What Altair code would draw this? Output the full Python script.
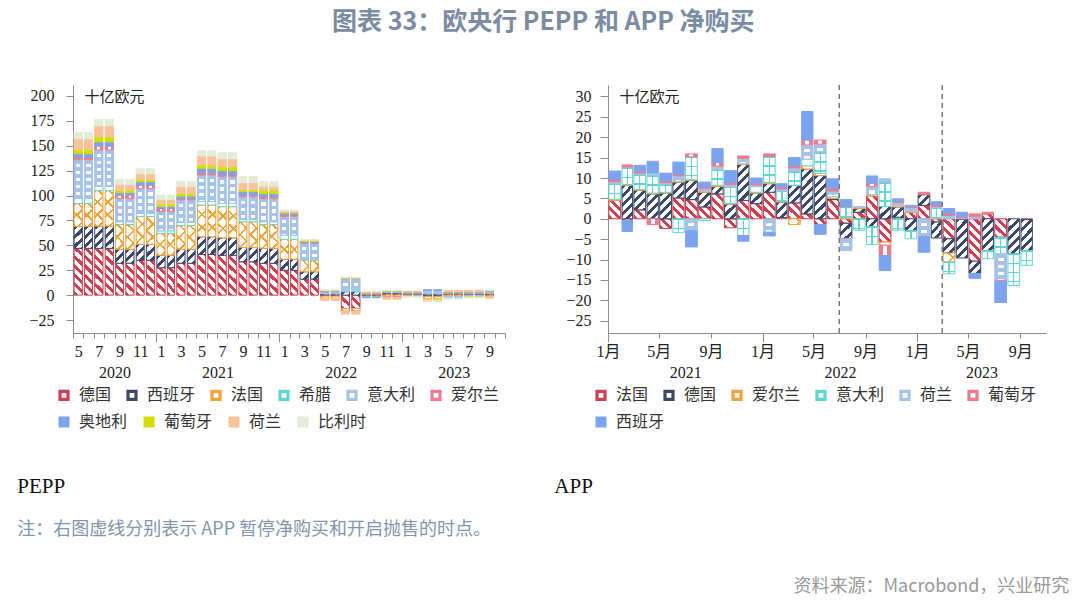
import math
import datetime as dt
import altair as alt

# ---------------- fonts / colours ----------------
SERIF = "Liberation Serif"
CJK = "Noto Sans CJK SC"
MIXF = "Liberation Serif, Noto Sans CJK SC"
RED = "#CF3E51"; NAVY = "#3B4869"; ORANGE = "#F0A23B"; CYAN = "#5ED8CF"; LBLUE = "#A6C2E7"
PINK = "#F07A8E"; BLUE = "#7CA4EE"; YG = "#D3DF00"; PEACH = "#F8C29A"; PALE = "#E3ECD6"
WHITE = "#FFFFFF"; TR = "rgba(255,255,255,0)"

# ---------------- PEPP data (bimonthly, each value shown for both months) ----------------
pepp_periods = ["2020-05", "2020-07", "2020-09", "2020-11", "2021-01", "2021-03", "2021-05", "2021-07",
                "2021-09", "2021-11", "2022-01", "2022-03", "2022-05", "2022-07", "2022-09", "2022-11",
                "2023-01", "2023-03", "2023-05", "2023-07", "2023-09"]
pepp_span = [2] * 20 + [1]
pepp_countries = ["德国", "西班牙", "法国", "希腊", "意大利", "爱尔兰", "奥地利", "葡萄牙", "荷兰", "比利时"]
pepp_de = [47, 47, 32, 35, 27.5, 32, 41, 40, 33.5, 32, 25, 16, 1.5, -13.5, 1.0, 1.5, 1.0, -1.5, 1.2, 0.8, 2.0]
pepp_es = [22, 22.3, 14, 16, 12.5, 14, 17.6, 17.6, 14.5, 15, 11, 7.5, -1.0, 3.5, -1.0, 1.0, 0.8, 1.2, 0.8, 0.8, -0.5]
pepp_fr = [23, 35.7, 25, 28, 22, 24, 31.9, 31.2, 25.7, 24, 20, 11.5, -2.0, -2.5, 1.0, -1.5, 0.6, -2.2, -1.0, 0.5, -1.0]
pepp_gr = [5, 4.5, 2.7, 3, 2.6, 3, 3.5, 3.2, 2.3, 2.7, 4, 1, 0.5, 1.0, 0.3, 0.3, 0.3, 0.5, 0.3, 0.3, 0.4]
pepp_it = [39, 36.2, 23.3, 25, 19.4, 22.5, 26.6, 27, 22.8, 23.3, 19, 16, 1.5, 12, -1.0, 1.0, -1.2, 3.0, -2.0, -1.5, 1.2]
pepp_ie = [2.5, 4, 3.5, 3.5, 3, 1.5, 2.4, 2, 1.7, 2, 2, 1, 0.5, 0.5, 0.3, -0.5, 0.2, 0.2, 0.2, 0.3, 0.3]
pepp_at = [3.5, 4.3, 2.5, 3.5, 2, 2.5, 4.3, 4, 3.4, 3, 1.5, 1, 0.5, -0.5, -0.5, 0.4, 0.3, 0.5, 0.8, 0.6, 0.5]
pepp_pt = [4.5, 5, 2.5, 2, 2.5, 2.5, 3.3, 4, 2.1, 3.5, 1, 0.8, 0.5, 0.5, 0.3, 0.3, -0.3, -0.6, 0.3, -0.5, 0.3]
pepp_nl = [10.5, 11, 5.5, 6, 4.5, 7, 9.1, 8, 7, 4, 1, 0.5, -2.5, -2.5, 0.6, -2.0, 0.6, -1.5, 1.2, 1.6, -1.5]
pepp_be = [6.5, 6.5, 5, 5, 4.5, 5, 5.3, 6, 6, 4.5, 1, 0.7, 0.5, 0.5, 0.5, 0.3, -0.5, -0.8, -1.0, -0.8, 0.4]
pepp_series = [pepp_de, pepp_es, pepp_fr, pepp_gr, pepp_it, pepp_ie, pepp_at, pepp_pt, pepp_nl, pepp_be]
pepp_colors = [RED, NAVY, ORANGE, CYAN, LBLUE, PINK, BLUE, YG, PEACH, PALE]

# ---------------- APP data (monthly) ----------------
app_start = "2021-01"
app_countries = ["法国", "德国", "爱尔兰", "意大利", "荷兰", "葡萄牙", "西班牙"]
app_fr = [4.5, -0.4, 2.2, 0, -2.4, 5.1, 4.7, 2.9, 6.1, -2.2, 4.5, 3.7, 6.5, 0.3, 3.9, 1.2, -1.4, 4.7, -1.1, 1.6,
          5.6, -5.7, 0.4, 1.6, 3.3, -0.8, -4.9, -0.2, -10.4, 1.2, -4.5, 0, -0.2]
app_de = [0, 8.2, 4.8, 6.1, 6.3, 3.9, 4.7, 3.6, 1.8, 3.6, 8.8, 2.6, 2.1, 3.8, 4.3, 11.0, 10.6, 0.3, -3.8, 0.9,
          -1.9, 3.0, 2.5, -2.9, 2.6, -3.9, -3.5, -9.4, -3.0, -7.8, 0, -8.6, -7.6]
app_ie = [0.3, 0.2, 0.2, 0.2, 0.2, 0.2, 0.2, 0.3, 0.3, 0.2, 0.2, 0.2, 0.3, 0.2, -1.4, 0.8, 0.5, 0.4, 0.3, 0.3,
          0.3, -0.8, 0.3, 0.2, 0, 0.1, -2.2, 0, 0, 0, 0, 0, 0]
app_it = [3.8, 4.1, 3.7, 4.4, 2.0, -3.4, 5.6, -0.4, 3.9, 4.0, -4.1, 1.4, 6.4, 2.5, 3.5, 1.6, 5.2, 0.7, 2.6, -2.8,
          -4.4, 6.0, -2.8, -2.0, 0, 2.6, -2.9, 0, 0, -2.0, -4.1, -7.8, -3.6]
app_nl = [0.5, 0.2, 0.3, 0.6, 0.4, 1.3, -2.9, 0.6, 0.8, 0.6, 1.3, 0.4, -3.3, 0.5, 0.8, 3.5, 2.0, 0.7, -2.9, 0.2,
          2.0, 0.8, 0.8, 1.0, -4.3, 0.3, 0.8, 0.3, 0.6, 0, -6.5, 0, 0]
app_pt = [0.5, 0.5, 0.5, -1.4, 0.4, 0.4, 0.7, 0.4, 0.9, 0.5, 0.6, 0.4, 0.6, 0.5, 0.5, 1.2, 1.0, 0.6, 0.2, 0,
          0.8, -2.5, 0.3, 0.2, 0.6, 0.4, 0.4, 0.3, 0.6, 0.4, -0.3, 0, 0]
app_es = [2.1, -2.7, 1.4, 2.8, 1.9, 3.0, -4.0, 1.2, 3.4, 2.9, -1.4, 1.3, -0.9, 0.8, 2.0, 7.0, -2.4, 2.4, 1.6, 0,
          1.8, -3.7, 0.6, 0.3, -3.9, 0.8, 1.3, 1.0, -1.2, 0, -5.1, 0, 0]
app_series = [app_fr, app_de, app_ie, app_it, app_nl, app_pt, app_es]
app_colors = [RED, NAVY, ORANGE, CYAN, LBLUE, PINK, BLUE]
app_events = ["2022-07-01", "2023-03-01"]   # APP net purchases end / QT starts

STYLES = ["bs", "fs", "x", "grid", "dash", "vbar", "solid", "solid", "solid", "solid"]

# ---------------- helpers ----------------
def add_month(y, m, k=1):
    t = y * 12 + (m - 1) + k
    return t // 12, t % 12 + 1

def ms(y, m, d=1):
    return int(dt.datetime(y, m, d, tzinfo=dt.timezone.utc).timestamp() * 1000)

def _stops(n, frac, color, bg):
    stops, i = [], 0
    while i / n < 1:
        a = i / n; b = min((i + frac) / n, 1.0); c = min((i + 1) / n, 1.0)
        stops += [{"offset": round(a, 4), "color": color}, {"offset": round(b, 4), "color": color}]
        if b < 1:
            stops += [{"offset": round(b, 4), "color": bg}, {"offset": round(c, 4), "color": bg}]
        i += 1
    return stops

def diag(w, h, color, bg, slash, period, frac):
    L = w + h
    k = L / (w * w + h * h)
    gx, gy = w * k, h * k
    n = max(L / (period * math.sqrt(2)), 1e-6)
    st = _stops(n, frac, color, bg)
    if slash:
        return {"gradient": "linear", "x1": 0, "y1": 0, "x2": round(gx, 5), "y2": round(gy, 5), "stops": st}
    return {"gradient": "linear", "x1": 0, "y1": 1, "x2": round(gx, 5), "y2": round(1 - gy, 5), "stops": st}

def vbands(h, color, bg, period, frac):
    n = max(h / period, 1e-6)
    return {"gradient": "linear", "x1": 0, "y1": 0, "x2": 0.0001, "y2": 1, "stops": _stops(n, frac, color, bg)}

def hgrad(pairs):
    return {"gradient": "linear", "x1": 0, "y1": 0, "x2": 1, "y2": 0,
            "stops": [{"offset": o, "color": c} for o, c in pairs]}

def pattern(style, color, w, h):
    if style == "bs":
        return diag(w, h, color, WHITE, False, 6.5, 0.45), None
    if style == "fs":
        return diag(w, h, color, WHITE, True, 6.5, 0.45), None
    if style == "x":
        return diag(w, h, color, WHITE, False, 9, 0.2), diag(w, h, color, TR, True, 9, 0.2)
    if style == "grid":
        if h < 8:
            return WHITE, None
        return vbands(h, color, WHITE, 9, 0.16), hgrad([(0, TR), (0.44, TR), (0.44, color), (0.56, color), (0.56, TR), (1, TR)])
    if style == "dash":
        if h < 5:
            return color, None
        return vbands(h, color, WHITE, 7, 0.55), hgrad([(0, color), (0.24, color), (0.24, TR), (0.76, TR), (0.76, color), (1, color)])
    if style == "vbar":
        if h < 2.5:
            return color, None
        return hgrad([(0, color), (0.33, color), (0.33, WHITE), (0.67, WHITE), (0.67, color), (1, color)]), None
    return color, None

def build_rows(months, countries, series, colors, ppu, w):
    rows = []
    for i, (yy, mm) in enumerate(months):
        ny, nm = add_month(yy, mm)
        pos = neg = 0.0
        for ci, c in enumerate(countries):
            v = series[ci][i]
            if v == 0:
                continue
            if v > 0:
                y0, y1 = pos, pos + v; pos = y1
            else:
                y0, y1 = neg, neg + v; neg = y1
            g1, g2 = pattern(STYLES[ci], colors[ci], w, abs(v) * ppu)
            rows.append({"start": f"{yy}-{mm:02d}-01", "end": f"{ny}-{nm:02d}-01", "country": c,
                         "y0": round(y0, 3), "y1": round(y1, 3), "g1": g1,
                         "g2": g2 if g2 is not None else "none", "has2": g2 is not None})
    return rows

# ---------------- build tables ----------------
pepp_months, pepp_monthly = [], [[] for _ in pepp_countries]
for p, (per, span) in enumerate(zip(pepp_periods, pepp_span)):
    y, m = map(int, per.split("-"))
    for j in range(span):
        pepp_months.append(add_month(y, m, j))
        for ci, ser in enumerate(pepp_series):
            pepp_monthly[ci].append(ser[p])

ay, am = map(int, app_start.split("-"))
app_months = [add_month(ay, am, k) for k in range(len(app_fr))]

LW, LH, RW, RH = 432, 248, 438, 248
L_DOM = [-38, 211]; R_DOM = [-28, 32.8]
pepp_rows = build_rows(pepp_months, pepp_countries, pepp_monthly, pepp_colors, LH / (L_DOM[1] - L_DOM[0]), 8.0)
app_rows = build_rows(app_months, app_countries, app_series, app_colors, RH / (R_DOM[1] - R_DOM[0]), 11.4)

# ---------------- axes values ----------------
L0, L1 = ms(2020, 5), ms(2023, 11)
l_ticks, l_labels = [], []
yy, mm = 2020, 5
while ms(yy, mm) <= L1:
    l_ticks.append(ms(yy, mm))
    ny, nm = add_month(yy, mm)
    if ms(yy, mm) < L1 and mm % 2 == 1:
        l_labels.append((ms(yy, mm) + ms(ny, nm)) // 2)
    yy, mm = ny, nm
l_major = [ms(2021, 1), ms(2022, 1), ms(2023, 1)]
l_years = [(max(ms(y, 1), L0) + min(ms(y + 1, 1), L1)) // 2 for y in [2020, 2021, 2022, 2023]]

R0, R1 = ms(2021, 1), ms(2023, 11)
r_ticks = [ms(y, m) for y in [2021, 2022, 2023] for m in [1, 5, 9]]
r_major = [ms(2021, 1), ms(2022, 1), ms(2023, 1)]
r_years = [(max(ms(y, 1), R0) + min(ms(y + 1, 1), R1)) // 2 for y in [2021, 2022, 2023]]

AXC = dict(orient="bottom", title=None, grid=False, domainColor="#8c8c8c", tickColor="#8c8c8c",
           labelFont=MIXF, labelFontSize=16, labelColor="#222")

def yaxis(vals, tick, pad):
    return alt.Axis(values=vals, tickSize=tick, labelPadding=pad, grid=False, domainColor="#8c8c8c",
                    tickColor="#8c8c8c", labelFont=SERIF, labelFontSize=16, labelColor="#222", orient="left",
                    title="十亿欧元", titleAngle=0, titleAlign="left", titleBaseline="top", titleX=11, titleY=4,
                    titleFont=CJK, titleFontSize=15, titleFontWeight="normal", titleColor="#222")

def legend_kw(lx, ly, **kw):
    d = dict(orient="none", legendX=lx, legendY=ly, direction="horizontal", columns=6,
             symbolType="square", labelFont=CJK, labelFontSize=16, labelColor="#333", labelOffset=7,
             columnPadding=9, title=None)
    d.update(kw)
    return d

def panel(rows, countries, colors, xdom, ydom, yvals, ytick, ypad, w, h, xoff, x2off,
          axA, axB, axC, axD, lx, ly, texts, rules=None):
    data = alt.Data(values=rows)
    xs = alt.Scale(type="utc", domain=xdom, nice=False)
    ys = alt.Scale(domain=ydom, nice=False, zero=False)
    stroke_sc = alt.Scale(domain=countries, range=colors)
    hatched = [c for i, c in enumerate(countries) if STYLES[i] != "solid"]
    solid = [c for i, c in enumerate(countries) if STYLES[i] == "solid"]
    solid_col = [colors[i] for i, c in enumerate(countries) if STYLES[i] == "solid"]
    base = alt.Chart(data)
    # hatched bars: pattern gradients travel in the data (no scale); border colour via the stroke scale
    A = base.mark_bar(xOffset=xoff, x2Offset=x2off, strokeWidth=1).encode(
        x=alt.X("start:T", scale=xs, axis=axA), x2="end:T",
        y=alt.Y("y0:Q", scale=ys, axis=yaxis(yvals, ytick, ypad)), y2="y1:Q",
        color=alt.Color("g1:N", scale=None, legend=None),
        stroke=alt.Stroke("country:N", scale=stroke_sc, legend=alt.Legend(**legend_kw(
            lx, ly, values=hatched, symbolSize=64, symbolStrokeWidth=3.2, symbolFillColor=WHITE))))
    B = base.mark_bar(xOffset=xoff, x2Offset=x2off, strokeWidth=0).transform_filter("datum.has2").encode(
        x=alt.X("start:T", scale=xs, axis=axB), x2="end:T",
        y=alt.Y("y0:Q", scale=ys, axis=None), y2="y1:Q",
        color=alt.Color("g2:N", scale=None, legend=None))
    # empty layer: second legend row (solid-filled countries) and one more axis
    C = base.mark_bar().transform_filter("false").encode(
        x=alt.X("start:T", scale=xs, axis=axC), x2="end:T",
        y=alt.Y("y0:Q", scale=ys, axis=None), y2="y1:Q",
        fill=alt.Fill("country:N", scale=alt.Scale(domain=solid, range=solid_col),
                      legend=alt.Legend(**legend_kw(lx, ly + 27, symbolSize=121, symbolStrokeWidth=0,
                                                    columnPadding=13))))
    layers = [A, B, C]
    if axD is not None:
        D = base.mark_bar().transform_filter("false").encode(
            x=alt.X("start:T", scale=xs, axis=axD), x2="end:T",
            y=alt.Y("y0:Q", scale=ys, axis=None), y2="y1:Q")
        layers.append(D)
    if rules is not None:
        R = alt.Chart(alt.Data(values=[{"d": d} for d in rules])).mark_rule(
            strokeDash=[5, 4], color="#7a7a7a", strokeWidth=1.5).encode(
            x=alt.X("d:T", scale=xs, axis=None))
        layers.append(R)
    for (t, x, y, align, font, size, color) in texts:
        layers.append(alt.Chart(alt.Data(values=[{"t": t}])).mark_text(
            align=align, baseline="middle", font=font, fontSize=size, color=color).encode(
            x=alt.value(x), y=alt.value(y), text="t:N"))
    return alt.layer(*layers).resolve_axis(x="independent", y="independent").properties(width=w, height=h)

left = panel(
    pepp_rows, pepp_countries, pepp_colors, [L0, L1], L_DOM, list(range(-25, 201, 25)), 7, 12, LW, LH, 1.1, -1.1,
    alt.Axis(values=l_ticks, labels=False, tickSize=5, **AXC),
    alt.Axis(values=l_labels, ticks=False, tickSize=0, domain=False, labelPadding=10, labelOverlap=False,
             labelFlush=False, labelExpr="utcFormat(datum.value, '%-m')", **AXC),
    alt.Axis(values=l_major, labels=False, tickSize=9, domain=False, **AXC),
    alt.Axis(values=l_years, ticks=False, tickSize=0, domain=False, labelPadding=31, labelOverlap=False,
             labelFlush=False, labelExpr="utcFormat(datum.value, '%Y')", **AXC),
    -17, 302,
    [("PEPP", -55.7, 402, "left", SERIF, 21, "#111"),
     ("注：右图虚线分别表示 APP 暂停净购买和开启抛售的时点。", -55.7, 445, "left", CJK, 18, "#8395AE")])

right = panel(
    app_rows, app_countries, app_colors, [R0, R1], R_DOM, list(range(-25, 31, 5)), 8, 9, RW, RH, 0.9, -0.5,
    alt.Axis(values=r_ticks, tickSize=5, labelPadding=5, labelOverlap=False, labelFlush=False,
             labelExpr="utcFormat(datum.value, '%-m') + '月'", **AXC),
    alt.Axis(values=r_major, labels=False, tickSize=9, domain=False, **AXC),
    alt.Axis(values=r_years, ticks=False, tickSize=0, domain=False, labelPadding=31, labelOverlap=False,
             labelFlush=False, labelExpr="utcFormat(datum.value, '%Y')", **AXC),
    None,
    -15, 302,
    [("APP", -53.7, 402, "left", SERIF, 21, "#111"),
     ("资料来源：Macrobond，兴业研究", 461.3, 502, "right", CJK, 18, "#999999")],
    rules=app_events)

chart = alt.hconcat(left, right, spacing=48).resolve_scale(
    stroke="independent", fill="independent").properties(
    title=alt.TitleParams(text="图表 33：欧央行 PEPP 和 APP 净购买", font=CJK, fontSize=25, fontWeight="bold",
                          color="#7B8BA2", anchor="middle", offset=49),
    padding={"left": 17, "top": 10, "right": 8, "bottom": 4},
    background="white",
).configure_view(stroke=None)

chart.save("out.html", embed_options={"renderer": "svg", "actions": False})
